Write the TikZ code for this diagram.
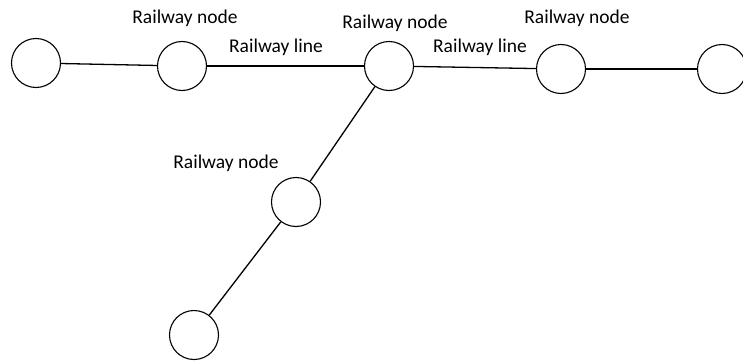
\documentclass[tikz,border=0pt]{standalone}
\usepackage{fontspec}
\setmainfont{Carlito}
\begin{document}
\begin{tikzpicture}[x=1pt,y=-1pt,
  rnode/.style={circle,draw,line width=1.1pt,minimum size=49pt,inner sep=0pt},
  rline/.style={line width=1.3pt},
  lbl/.style={font=\fontsize{19.5}{22}\selectfont,inner sep=0pt}]
\useasboundingbox (0,0) rectangle (743,361);
\node[rnode] (c1) at (36,63) {};
\node[rnode] (c2) at (182,66) {};
\node[rnode] (c3) at (389,66) {};
\node[rnode] (c4) at (561,69) {};
\node[rnode] (c5) at (722,69) {};
\node[rnode] (c6) at (296,202) {};
\node[rnode] (c7) at (194,335) {};
\draw[rline] (c1) -- (c2);
\draw[rline] (c2) -- (c3);
\draw[rline] (c3) -- (c4);
\draw[rline] (c4) -- (c5);
\draw[rline] (c3) -- (c6);
\draw[rline] (c6) -- (c7);
\node[lbl] (l2) at (185,18) {Railway node};
\node[lbl] (l3) at (395,23) {Railway node};
\node[lbl] (l4) at (577,18) {Railway node};
\node[lbl] (l6) at (226,163) {Railway node};
\node[lbl] (e1) at (276,47) {Railway line};
\node[lbl] (e2) at (480,47) {Railway line};
\end{tikzpicture}
\end{document}
